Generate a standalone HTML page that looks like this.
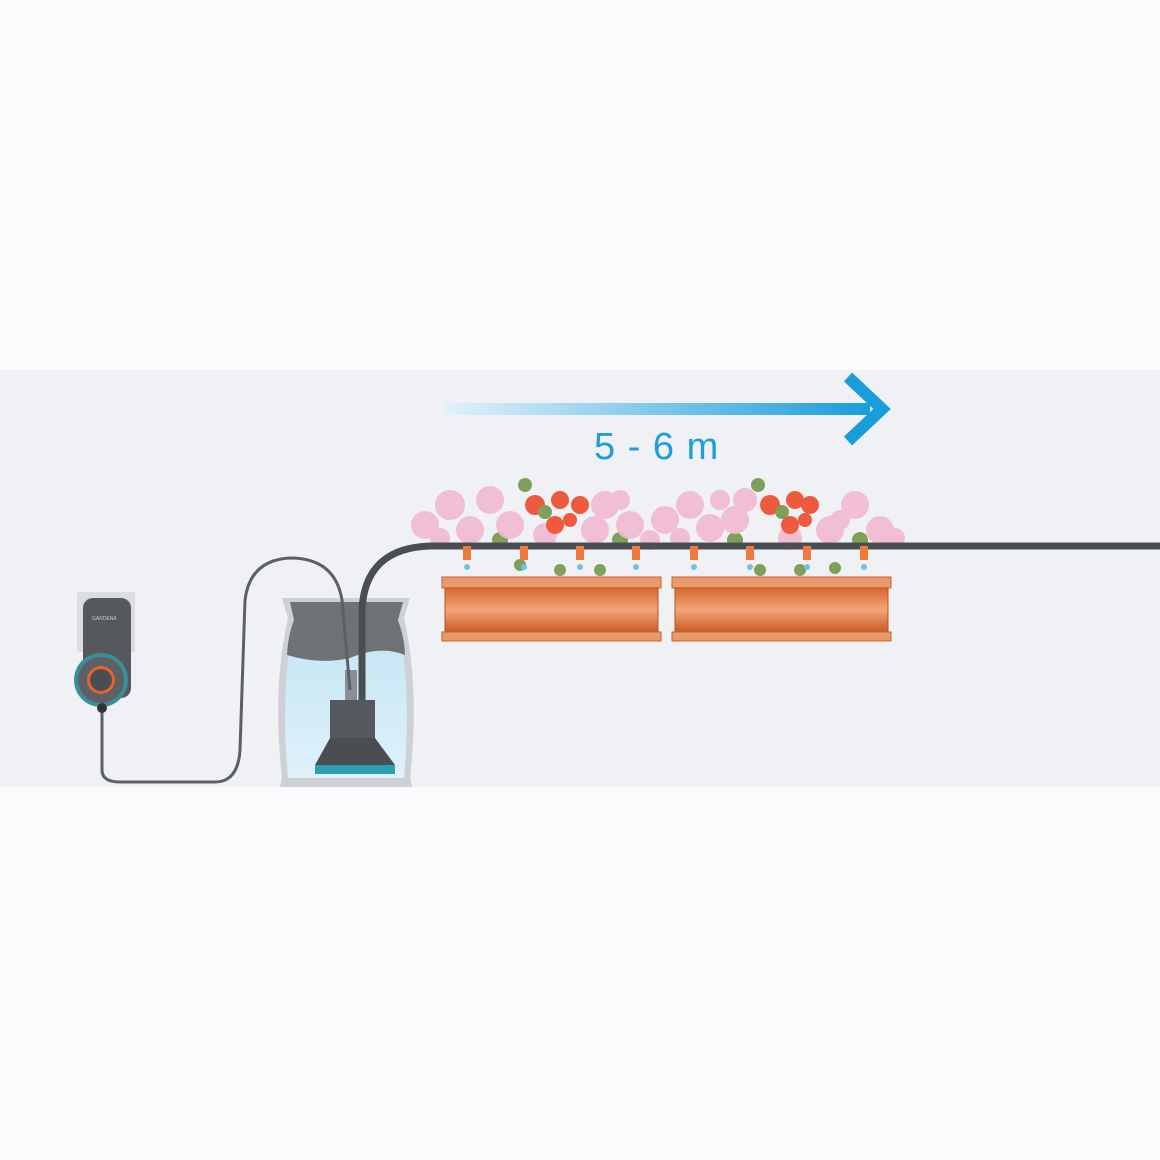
<!DOCTYPE html>
<html><head><style>html,body{margin:0;padding:0;background:#fbfbfd}svg{display:block}</style></head><body>
<svg width="1160" height="1160" viewBox="0 0 1160 1160" xmlns="http://www.w3.org/2000/svg">
<defs>
<linearGradient id="ar" x1="0" x2="1"><stop offset="0" stop-color="#e2f1fa"/><stop offset="1" stop-color="#1a9ddb"/></linearGradient>
<linearGradient id="pl" x1="0" y1="0" x2="0" y2="1"><stop offset="0" stop-color="#d8692f"/><stop offset=".5" stop-color="#f2a57a"/><stop offset="1" stop-color="#c85a25"/></linearGradient>
<linearGradient id="wt" x1="0" y1="0" x2="0" y2="1"><stop offset="0" stop-color="#bfe3f4"/><stop offset="1" stop-color="#dff1fa"/></linearGradient>
</defs>
<rect x="0" y="370" width="1160" height="417" fill="#eff1f4"/>
<rect x="445" y="403" width="425" height="12" fill="url(#ar)"/>
<polyline points="848,377 882,409 848,441" fill="none" stroke="#1a9ddb" stroke-width="12"/>
<text x="594" y="459" font-family="Liberation Sans, sans-serif" font-size="38" letter-spacing="1" fill="#1e9fd8">5 - 6 m</text>
<g>
<g fill="#7fa05a"><circle cx="500" cy="540" r="8"/><circle cx="735" cy="540" r="8"/><circle cx="620" cy="540" r="8"/><circle cx="860" cy="540" r="8"/></g>
<g fill="#f3bcd3" opacity=".95">
<circle cx="425" cy="525" r="14"/><circle cx="450" cy="505" r="15"/><circle cx="490" cy="500" r="14"/><circle cx="470" cy="530" r="14"/><circle cx="510" cy="525" r="14"/><circle cx="605" cy="505" r="14"/><circle cx="595" cy="530" r="14"/><circle cx="630" cy="525" r="14"/><circle cx="665" cy="520" r="14"/><circle cx="690" cy="505" r="14"/><circle cx="710" cy="528" r="14"/><circle cx="735" cy="520" r="14"/><circle cx="745" cy="500" r="12"/><circle cx="830" cy="530" r="14"/><circle cx="855" cy="505" r="14"/><circle cx="880" cy="530" r="14"/><circle cx="545" cy="535" r="12"/><circle cx="790" cy="538" r="12"/>
<circle cx="440" cy="538" r="10"/><circle cx="650" cy="540" r="10"/><circle cx="680" cy="538" r="10"/><circle cx="895" cy="538" r="10"/><circle cx="620" cy="500" r="10"/><circle cx="720" cy="500" r="10"/><circle cx="840" cy="520" r="10"/>
</g>
<g fill="#ee5a3d">
<circle cx="535" cy="505" r="10"/><circle cx="560" cy="500" r="9"/><circle cx="580" cy="505" r="9"/><circle cx="555" cy="525" r="9"/><circle cx="770" cy="505" r="10"/><circle cx="795" cy="500" r="9"/><circle cx="810" cy="505" r="9"/><circle cx="790" cy="525" r="9"/><circle cx="570" cy="520" r="7"/><circle cx="805" cy="520" r="7"/>
</g>
<g fill="#7fa05a"><circle cx="545" cy="512" r="7"/><circle cx="782" cy="512" r="7"/><circle cx="525" cy="485" r="7"/><circle cx="758" cy="485" r="7"/>
<circle cx="520" cy="565" r="6"/><circle cx="560" cy="570" r="6"/><circle cx="600" cy="570" r="6"/><circle cx="760" cy="570" r="6"/><circle cx="800" cy="570" r="6"/><circle cx="835" cy="568" r="6"/></g>
</g>
<g>
<rect x="442" y="577" width="219" height="11" fill="#e89a6c" stroke="#c8612a"/>
<rect x="445" y="588" width="213" height="44" fill="url(#pl)" stroke="#b8521f"/>
<rect x="442" y="632" width="219" height="9" fill="#e89a6c" stroke="#c8612a"/>
<rect x="672" y="577" width="219" height="11" fill="#e89a6c" stroke="#c8612a"/>
<rect x="675" y="588" width="213" height="44" fill="url(#pl)" stroke="#b8521f"/>
<rect x="672" y="632" width="219" height="9" fill="#e89a6c" stroke="#c8612a"/>
</g>
<path d="M282,598 L410,598 L404,618 Q420,690 410,778 L412,787 L280,787 L282,778 Q272,690 288,618 Z" fill="#cdd0d4"/>
<path d="M290,602 L403,602 L398,620 Q412,690 404,778 L288,778 Q280,690 294,620 Z" fill="url(#wt)"/>
<path d="M290,602 L403,602 L398,620 Q405,640 405,655 Q380,645 350,658 Q320,665 287,655 Q288,635 294,620 Z" fill="#6e7276"/>
<rect x="330" y="700" width="45" height="38" fill="#55595e"/>
<path d="M330,738 L375,738 L395,765 L315,765 Z" fill="#4a4e53"/>
<rect x="315" y="765" width="80" height="9" fill="#2aa0b4"/>
<rect x="345" y="670" width="12" height="30" fill="#8b8f94"/>
<path d="M102,712 L102,770 Q102,782 120,782 L215,782 Q238,782 240,750 L245,600 Q250,560 290,558 Q335,558 342,600 L350,690" fill="none" stroke="#5c6065" stroke-width="3"/>
<path d="M362,700 L362,610 Q365,548 430,546 L1160,546" fill="none" stroke="#4a4d52" stroke-width="7"/>
<g fill="#f07a3e">
<rect x="463" y="546" width="8" height="14"/><rect x="520" y="546" width="8" height="14"/><rect x="576" y="546" width="8" height="14"/><rect x="632" y="546" width="8" height="14"/><rect x="690" y="546" width="8" height="14"/><rect x="746" y="546" width="8" height="14"/><rect x="803" y="546" width="8" height="14"/><rect x="860" y="546" width="8" height="14"/>
</g>
<g fill="#6cc3ea"><circle cx="467" cy="567" r="3"/><circle cx="524" cy="567" r="3"/><circle cx="580" cy="567" r="3"/><circle cx="636" cy="567" r="3"/><circle cx="694" cy="567" r="3"/><circle cx="750" cy="567" r="3"/><circle cx="807" cy="567" r="3"/><circle cx="864" cy="567" r="3"/></g>
<rect x="77" y="592" width="58" height="60" rx="2" fill="#dcdde0"/>
<rect x="83" y="598" width="48" height="100" rx="10" fill="#55595e"/>
<text x="92" y="620" font-family="Liberation Sans, sans-serif" font-size="5" fill="#ccc">GARDENA</text>
<circle cx="101" cy="680" r="27" fill="#3c8c99"/>
<circle cx="101" cy="680" r="23" fill="#5c6065"/>
<circle cx="101" cy="680" r="14" fill="#e8622b"/>
<circle cx="101" cy="680" r="11" fill="#4a4e53"/>
<circle cx="102" cy="708" r="5" fill="#333"/>
</svg>
</body></html>
